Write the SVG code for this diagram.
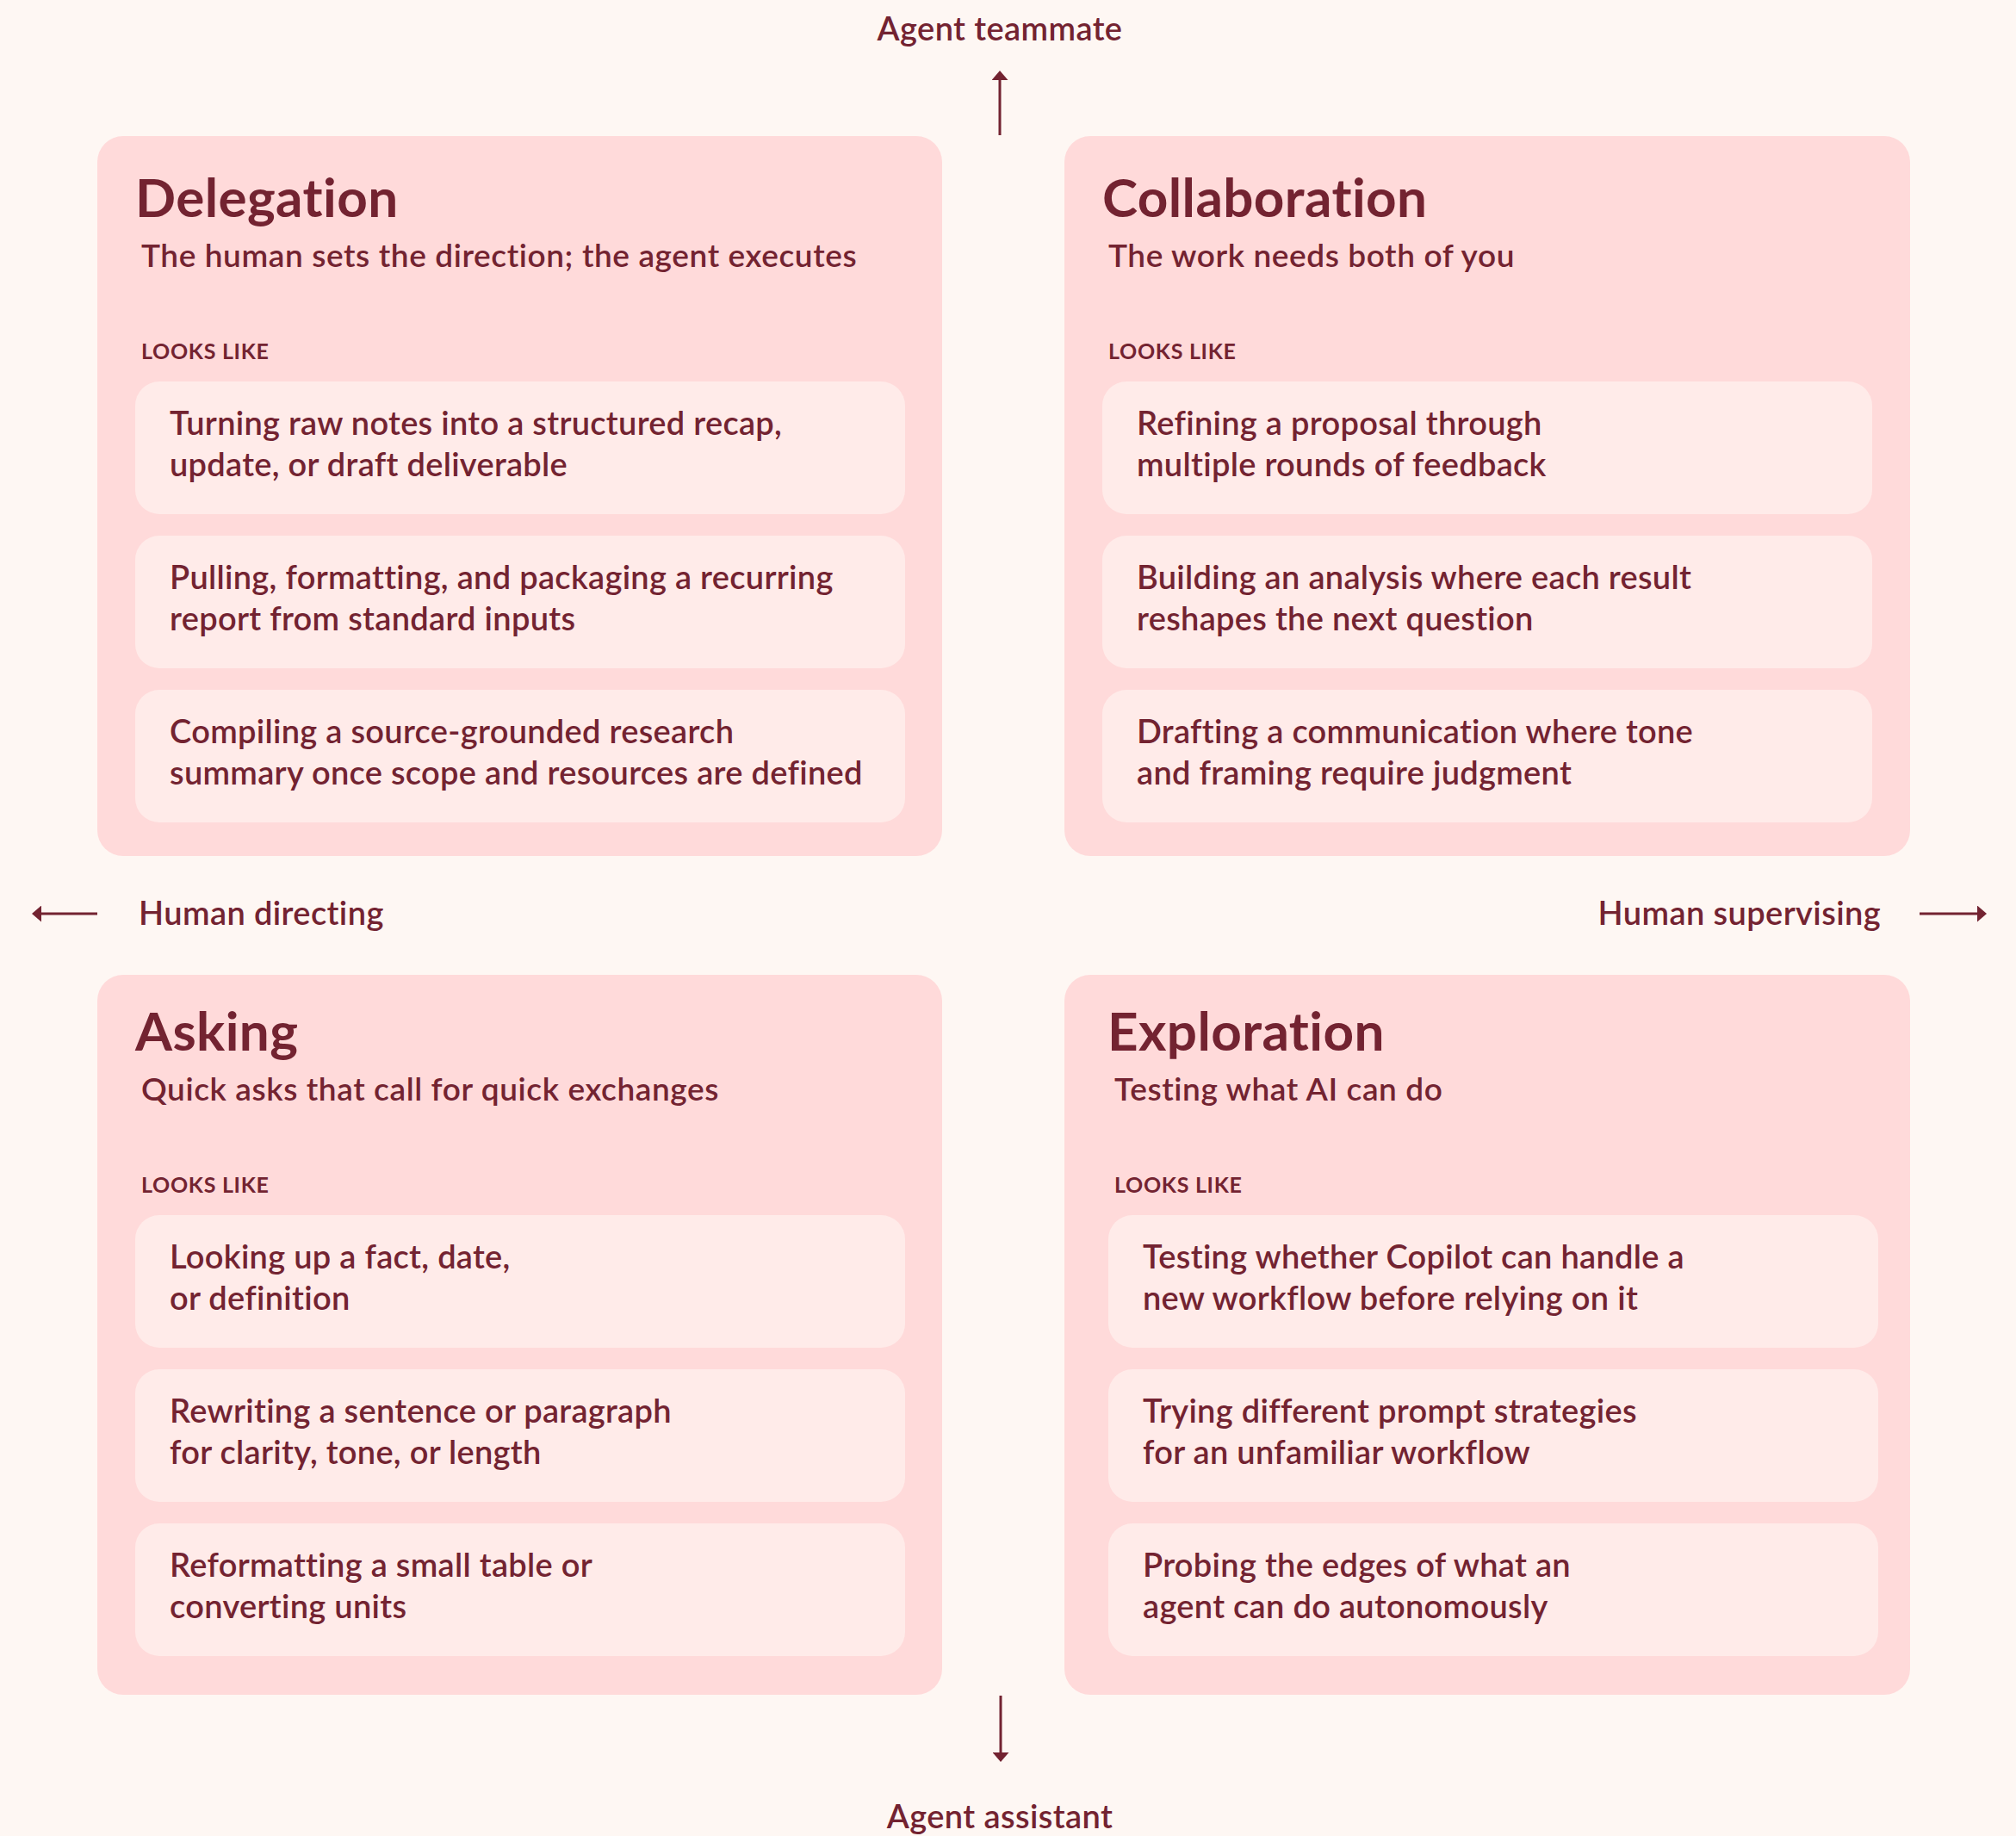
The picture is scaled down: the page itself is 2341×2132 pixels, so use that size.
<svg xmlns="http://www.w3.org/2000/svg" width="2341" height="2132" viewBox="0 0 2341 2132">
<defs>
<style>
.bg{fill:#FEF7F3}
.card{fill:#FFDADA}
.item{fill:#FFEBE9}
text{font-family:"Lato","Noto Sans",sans-serif;fill:#732331;font-variant-ligatures:none}
.title{font-size:62px;font-weight:700;letter-spacing:0.4px}
.sub{font-size:37px;font-weight:600;letter-spacing:0.6px}
.looks{font-size:25px;font-weight:700;letter-spacing:0.7px}
.itxt{font-size:38px;font-weight:600;letter-spacing:0.3px}
.axis{font-size:38px;font-weight:600;letter-spacing:0.4px}
.conn{stroke:#732331;stroke-width:3;fill:none}
</style>
<marker id="ah" viewBox="0 0 11 19" markerWidth="11" markerHeight="19" refX="0" refY="9.5" orient="auto" markerUnits="userSpaceOnUse">
<path d="M0,0 L11,9.5 L0,19 z" fill="#732331"/>
</marker>
</defs>
<rect class="bg" x="0" y="0" width="2341" height="2132"/>

<g id="connectors">
<line class="conn" x1="1161" y1="157" x2="1161" y2="93" marker-end="url(#ah)"/>
<line class="conn" x1="1162" y1="1969" x2="1162" y2="2035" marker-end="url(#ah)"/>
<line class="conn" x1="113" y1="1061" x2="48" y2="1061" marker-end="url(#ah)"/>
<line class="conn" x1="2229" y1="1061" x2="2296" y2="1061" marker-end="url(#ah)"/>
</g>

<g id="axis-labels">
<text id="label-top" class="axis" x="1161" y="47" text-anchor="middle">Agent teammate</text>
<text id="label-bottom" class="axis" x="1161" y="2123" text-anchor="middle">Agent assistant</text>
<text id="label-left" class="axis" x="161" y="1074">Human directing</text>
<text id="label-right" class="axis" x="2184" y="1074" text-anchor="end">Human supervising</text>
</g>

<g id="delegation">
<rect class="card" x="113" y="158" width="981" height="836" rx="30"/>
<text class="title" x="157" y="252">Delegation</text>
<text class="sub" x="164" y="310">The human sets the direction; the agent executes</text>
<text class="looks" x="164" y="417">LOOKS LIKE</text>
<rect class="item" x="157" y="443" width="894" height="154" rx="28"/>
<text class="itxt" x="197" y="505">Turning raw notes into a structured recap,</text>
<text class="itxt" x="197" y="553">update, or draft deliverable</text>
<rect class="item" x="157" y="622" width="894" height="154" rx="28"/>
<text class="itxt" x="197" y="684">Pulling, formatting, and packaging a recurring</text>
<text class="itxt" x="197" y="732">report from standard inputs</text>
<rect class="item" x="157" y="801" width="894" height="154" rx="28"/>
<text class="itxt" x="197" y="863">Compiling a source-grounded research</text>
<text class="itxt" x="197" y="911">summary once scope and resources are defined</text>
</g>

<g id="collaboration">
<rect class="card" x="1236" y="158" width="982" height="836" rx="30"/>
<text class="title" x="1280" y="252">Collaboration</text>
<text class="sub" x="1287" y="310">The work needs both of you</text>
<text class="looks" x="1287" y="417">LOOKS LIKE</text>
<rect class="item" x="1280" y="443" width="894" height="154" rx="28"/>
<text class="itxt" x="1320" y="505">Refining a proposal through</text>
<text class="itxt" x="1320" y="553">multiple rounds of feedback</text>
<rect class="item" x="1280" y="622" width="894" height="154" rx="28"/>
<text class="itxt" x="1320" y="684">Building an analysis where each result</text>
<text class="itxt" x="1320" y="732">reshapes the next question</text>
<rect class="item" x="1280" y="801" width="894" height="154" rx="28"/>
<text class="itxt" x="1320" y="863">Drafting a communication where tone</text>
<text class="itxt" x="1320" y="911">and framing require judgment</text>
</g>

<g id="asking">
<rect class="card" x="113" y="1132" width="981" height="836" rx="30"/>
<text class="title" x="157" y="1220">Asking</text>
<text class="sub" x="164" y="1278">Quick asks that call for quick exchanges</text>
<text class="looks" x="164" y="1385">LOOKS LIKE</text>
<rect class="item" x="157" y="1411" width="894" height="154" rx="28"/>
<text class="itxt" x="197" y="1473">Looking up a fact, date,</text>
<text class="itxt" x="197" y="1521">or definition</text>
<rect class="item" x="157" y="1590" width="894" height="154" rx="28"/>
<text class="itxt" x="197" y="1652">Rewriting a sentence or paragraph</text>
<text class="itxt" x="197" y="1700">for clarity, tone, or length</text>
<rect class="item" x="157" y="1769" width="894" height="154" rx="28"/>
<text class="itxt" x="197" y="1831">Reformatting a small table or</text>
<text class="itxt" x="197" y="1879">converting units</text>
</g>

<g id="exploration">
<rect class="card" x="1236" y="1132" width="982" height="836" rx="30"/>
<text class="title" x="1286" y="1220">Exploration</text>
<text class="sub" x="1294" y="1278">Testing what AI can do</text>
<text class="looks" x="1294" y="1385">LOOKS LIKE</text>
<rect class="item" x="1287" y="1411" width="894" height="154" rx="28"/>
<text class="itxt" x="1327" y="1473">Testing whether Copilot can handle a</text>
<text class="itxt" x="1327" y="1521">new workflow before relying on it</text>
<rect class="item" x="1287" y="1590" width="894" height="154" rx="28"/>
<text class="itxt" x="1327" y="1652">Trying different prompt strategies</text>
<text class="itxt" x="1327" y="1700">for an unfamiliar workflow</text>
<rect class="item" x="1287" y="1769" width="894" height="154" rx="28"/>
<text class="itxt" x="1327" y="1831">Probing the edges of what an</text>
<text class="itxt" x="1327" y="1879">agent can do autonomously</text>
</g>
</svg>
